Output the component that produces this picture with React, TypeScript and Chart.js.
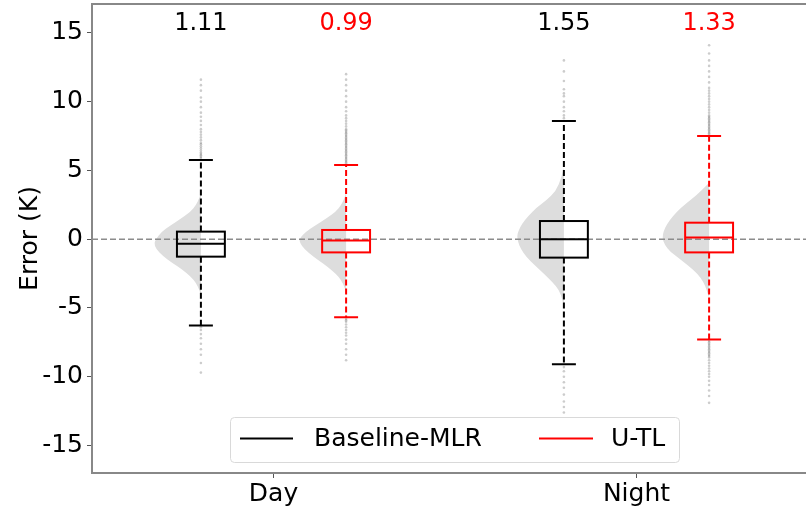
import React, { useEffect, useRef } from 'react';
import { Chart, registerables } from 'chart.js';
Chart.register(...registerables);

const FONT = '"DejaVu Sans", sans-serif';

const categories = ['Day', 'Night'];
const categoryPos = [1, 2];
const seriesNames = ['Baseline-MLR', 'U-TL'];
const seriesColors = ['#000000', '#ff0000'];
const seriesOffset = [-0.2, 0.2];
const yTicks = [-15, -10, -5, 0, 5, 10, 15];

// RMSE-like labels on top, per category
const baselineScore = ['1.11', '1.55'];
const utlScore = ['0.99', '1.33'];

// box statistics, per category
const baselineQ1 = [-1.27, -1.34];
const baselineMedian = [-0.33, 0.0];
const baselineQ3 = [0.55, 1.32];
const baselineWhiskerLow = [-6.28, -9.1];
const baselineWhiskerHigh = [5.75, 8.6];

const utlQ1 = [-0.96, -0.96];
const utlMedian = [-0.1, 0.13];
const utlQ3 = [0.67, 1.2];
const utlWhiskerLow = [-5.68, -7.3];
const utlWhiskerHigh = [5.4, 7.5];

// half-violin profiles (value levels and relative half widths)
const dayBaselineViolinY = [3.4, 3.0, 2.5, 2.0, 1.5, 1.0, 0.5, 0.0, -0.3, -0.7, -1.2, -1.7, -2.2, -2.7, -3.2, -3.7, -4.1];
const dayBaselineViolinW = [0, 0.03, 0.1, 0.22, 0.42, 0.65, 0.85, 0.96, 1.0, 0.96, 0.82, 0.62, 0.4, 0.22, 0.1, 0.03, 0];
const dayUtlViolinY = [3.4, 3.0, 2.5, 2.0, 1.5, 1.0, 0.5, 0.1, -0.1, -0.5, -1.0, -1.5, -2.0, -2.5, -3.0, -3.5, -3.9];
const dayUtlViolinW = [0, 0.03, 0.1, 0.22, 0.42, 0.66, 0.87, 0.98, 1.0, 0.95, 0.8, 0.6, 0.4, 0.22, 0.1, 0.03, 0];
const nightBaselineViolinY = [5.2, 4.5, 3.5, 2.8, 2.3, 1.7, 1.1, 0.6, 0.25, -0.2, -0.7, -1.3, -1.9, -2.5, -3.1, -3.7, -4.4, -5.0];
const nightBaselineViolinW = [0, 0.05, 0.17, 0.38, 0.58, 0.76, 0.9, 0.97, 1.0, 0.98, 0.92, 0.8, 0.62, 0.43, 0.25, 0.1, 0.03, 0];
const nightUtlViolinY = [4.1, 3.5, 2.9, 2.3, 1.7, 1.1, 0.6, 0.1, -0.4, -0.9, -1.3, -1.9, -2.5, -3.1, -3.7, -4.3];
const nightUtlViolinW = [0, 0.17, 0.38, 0.6, 0.77, 0.9, 0.97, 1.0, 0.95, 0.83, 0.68, 0.45, 0.25, 0.12, 0.05, 0];

// outliers
const dayBaselineOutliers = [5.9, 6.0, 6.1, 6.2, 6.3, 6.45, 6.6, 6.75, 6.9, 7.0, 7.2, 7.4, 7.6, 7.8, 8.0, 8.3, 8.6, 8.9, 9.2, 9.6, 10.0, 10.3, 10.8, 11.2, 11.6,
  -6.4, -6.6, -6.9, -7.2, -7.6, -8.0, -8.4, -9.0, -9.7];
const dayUtlOutliers = [5.5, 5.6, 5.7, 5.8, 5.9, 6.0, 6.1, 6.2, 6.3, 6.4, 6.5, 6.6, 6.7, 6.8, 6.9, 7.0, 7.1, 7.2, 7.3, 7.4, 7.5, 7.6, 7.7, 7.8, 7.9, 8.0, 8.2, 8.4, 8.6, 8.8, 9.0, 9.3, 9.6, 10.0, 10.4, 10.8, 11.2, 11.6, 12.0,
  -5.8, -5.9, -6.0, -6.2, -6.4, -6.6, -6.8, -7.0, -7.3, -7.6, -8.0, -8.4, -8.8];
const nightBaselineOutliers = [8.8, 9.0, 9.3, 9.6, 10.0, 10.4, 10.6, 10.9, 11.5, 12.2, 13.0,
  -9.3, -9.6, -10.0, -10.4, -10.8, -11.3, -11.8, -12.2, -12.6];
const nightUtlOutliers = [7.6, 7.7, 7.8, 7.9, 8.0, 8.1, 8.2, 8.3, 8.4, 8.5, 8.6, 8.7, 8.8, 8.9, 9.0, 9.2, 9.4, 9.6, 9.8, 10.0, 10.2, 10.4, 10.6, 10.8, 11.0, 11.4, 11.8, 12.2, 12.6, 13.0, 13.5, 14.1,
  -7.4, -7.5, -7.6, -7.7, -7.8, -7.9, -8.0, -8.1, -8.2, -8.3, -8.4, -8.5, -8.6, -8.8, -9.0, -9.2, -9.4, -9.6, -9.8, -10.0, -10.3, -10.6, -11.0, -11.4, -11.9];

const seriesQ1 = [baselineQ1, utlQ1];
const seriesMedian = [baselineMedian, utlMedian];
const seriesQ3 = [baselineQ3, utlQ3];
const seriesLow = [baselineWhiskerLow, utlWhiskerLow];
const seriesHigh = [baselineWhiskerHigh, utlWhiskerHigh];
const seriesScore = [baselineScore, utlScore];
const violinY = [[dayBaselineViolinY, nightBaselineViolinY], [dayUtlViolinY, nightUtlViolinY]];
const violinW = [[dayBaselineViolinW, nightBaselineViolinW], [dayUtlViolinW, nightUtlViolinW]];
const outliers = [[dayBaselineOutliers, nightBaselineOutliers], [dayUtlOutliers, nightUtlOutliers]];

const BOX_HALF = 0.066;
const CAP_HALF = 0.033;
const VIOLIN_MAX = 0.129;

const drawPlugin = {
  id: 'boxViolin',
  beforeDatasetsDraw(chart: any) {
    const { ctx, chartArea } = chart;
    const xs = chart.scales.x;
    const ys = chart.scales.y;
    ctx.save();
    ctx.beginPath();
    ctx.rect(chartArea.left, chartArea.top, chartArea.right - chartArea.left, chartArea.bottom - chartArea.top);
    ctx.clip();
    for (let s = 0; s < seriesNames.length; s++) {
      for (let c = 0; c < categories.length; c++) {
        const cx = categoryPos[c] + seriesOffset[s];
        const Y = violinY[s][c];
        const W = violinW[s][c];
        const pts = Y.map((y, i) => [xs.getPixelForValue(cx - W[i] * VIOLIN_MAX), ys.getPixelForValue(y)]);
        ctx.beginPath();
        const px = xs.getPixelForValue(cx);
        ctx.moveTo(px, pts[0][1]);
        ctx.lineTo(pts[0][0], pts[0][1]);
        for (let i = 1; i < pts.length - 1; i++) {
          const mx = (pts[i][0] + pts[i + 1][0]) / 2;
          const my = (pts[i][1] + pts[i + 1][1]) / 2;
          ctx.quadraticCurveTo(pts[i][0], pts[i][1], mx, my);
        }
        ctx.lineTo(pts[pts.length - 1][0], pts[pts.length - 1][1]);
        ctx.lineTo(px, pts[pts.length - 1][1]);
        ctx.closePath();
        ctx.fillStyle = '#dddddd';
        ctx.fill();
      }
    }
    ctx.restore();
  },
  afterDatasetsDraw(chart: any) {
    const { ctx, chartArea } = chart;
    const xs = chart.scales.x;
    const ys = chart.scales.y;
    ctx.save();
    ctx.strokeStyle = '#8c8c8c';
    ctx.lineWidth = 1.5;
    ctx.setLineDash([6, 3]);
    ctx.beginPath();
    const y0 = ys.getPixelForValue(0);
    ctx.moveTo(chartArea.left, y0);
    ctx.lineTo(chartArea.right, y0);
    ctx.stroke();

    for (let s = 0; s < seriesNames.length; s++) {
      ctx.strokeStyle = seriesColors[s];
      ctx.lineWidth = 2;
      for (let c = 0; c < categories.length; c++) {
        const cx = categoryPos[c] + seriesOffset[s];
        const px = xs.getPixelForValue(cx);
        const bl = xs.getPixelForValue(cx - BOX_HALF);
        const br = xs.getPixelForValue(cx + BOX_HALF);
        const cl = xs.getPixelForValue(cx - CAP_HALF);
        const cr = xs.getPixelForValue(cx + CAP_HALF);
        const q1 = ys.getPixelForValue(seriesQ1[s][c]);
        const q3 = ys.getPixelForValue(seriesQ3[s][c]);
        const md = ys.getPixelForValue(seriesMedian[s][c]);
        const lo = ys.getPixelForValue(seriesLow[s][c]);
        const hi = ys.getPixelForValue(seriesHigh[s][c]);
        ctx.setLineDash([6, 3]);
        ctx.beginPath();
        ctx.moveTo(px, q3);
        ctx.lineTo(px, hi);
        ctx.moveTo(px, q1);
        ctx.lineTo(px, lo);
        ctx.stroke();
        ctx.setLineDash([]);
        ctx.beginPath();
        ctx.moveTo(cl, hi);
        ctx.lineTo(cr, hi);
        ctx.moveTo(cl, lo);
        ctx.lineTo(cr, lo);
        ctx.stroke();
        ctx.strokeRect(bl, q3, br - bl, q1 - q3);
        ctx.beginPath();
        ctx.moveTo(bl, md);
        ctx.lineTo(br, md);
        ctx.stroke();
        ctx.fillStyle = seriesColors[s];
        ctx.font = `24px ${FONT}`;
        ctx.textAlign = 'center';
        ctx.textBaseline = 'middle';
        ctx.fillText(seriesScore[s][c], px, chartArea.top + 20);
      }
    }
    ctx.restore();
  },
  afterDraw(chart: any) {
    const { ctx, chartArea } = chart;
    ctx.save();
    ctx.strokeStyle = '#888888';
    ctx.lineWidth = 2;
    ctx.beginPath();
    ctx.moveTo(chartArea.left - 1, chartArea.top);
    ctx.lineTo(chartArea.right + 1, chartArea.top);
    ctx.stroke();

    ctx.fillStyle = '#000';
    ctx.font = `25px ${FONT}`;
    ctx.textAlign = 'center';
    ctx.textBaseline = 'middle';
    ctx.translate(30, (chartArea.top + chartArea.bottom) / 2);
    ctx.rotate(-Math.PI / 2);
    ctx.fillText('Error (K)', 0, 0);
    ctx.setTransform(1, 0, 0, 1, 0, 0);

    const lx = chartArea.left + 138;
    const ly = chartArea.top + 413;
    const lw = 449;
    const lh = 45;
    ctx.fillStyle = 'rgba(255,255,255,0.85)';
    ctx.strokeStyle = '#d9d9d9';
    ctx.lineWidth = 1;
    ctx.beginPath();
    (ctx as any).roundRect(lx + 0.5, ly + 0.5, lw, lh, 4);
    ctx.fill();
    ctx.stroke();
    const items = [
      { x0: lx + 10, x1: lx + 63, tx: lx + 84 },
      { x0: lx + 309, x1: lx + 363, tx: lx + 381 },
    ];
    const cy = ly + lh / 2 - 1;
    items.forEach((it, i) => {
      ctx.strokeStyle = seriesColors[i];
      ctx.lineWidth = 2;
      ctx.beginPath();
      ctx.moveTo(it.x0, cy);
      ctx.lineTo(it.x1, cy);
      ctx.stroke();
      ctx.fillStyle = '#000';
      ctx.font = `25px ${FONT}`;
      ctx.textAlign = 'left';
      ctx.textBaseline = 'middle';
      ctx.fillText(seriesNames[i], it.tx, cy + 1);
    });
    ctx.restore();
  },
};

export default function App() {
  const ref = useRef<HTMLCanvasElement | null>(null);
  useEffect(() => {
    document.body.style.margin = '0';
    if (!ref.current) return;
    const points: { x: number; y: number }[] = [];
    for (let s = 0; s < seriesNames.length; s++) {
      for (let c = 0; c < categories.length; c++) {
        outliers[s][c].forEach((v) => points.push({ x: categoryPos[c] + seriesOffset[s], y: v }));
      }
    }
    const chart = new Chart(ref.current, {
      type: 'scatter',
      data: {
        datasets: [
          {
            label: 'outliers',
            data: points,
            pointRadius: 1.3,
            pointBorderWidth: 0,
            pointBackgroundColor: 'rgba(110,110,110,0.35)',
            pointBorderColor: 'rgba(0,0,0,0)',
          },
        ],
      },
      options: {
        responsive: false,
        animation: false,
        events: [],
        layout: { padding: { top: 3, right: 2, left: 0, bottom: 0 } },
        plugins: { legend: { display: false }, tooltip: { enabled: false } },
        scales: {
          x: {
            type: 'linear',
            min: 0.5,
            max: 2.5,
            afterBuildTicks: (s: any) => {
              s.ticks = categoryPos.map((v) => ({ value: v }));
            },
            afterFit: (s: any) => {
              s.height = 37;
              s.paddingLeft = 0;
              s.paddingRight = 0;
            },
            ticks: {
              callback: (v: any) => categories[categoryPos.indexOf(Number(v))],
              font: { family: FONT, size: 25 },
              color: '#000',
              padding: 1,
              maxRotation: 0,
              autoSkip: false,
            },
            grid: { drawOnChartArea: false, drawTicks: true, tickLength: 5, color: '#555' },
            border: { display: true, color: '#888', width: 2 },
          },
          y: {
            type: 'linear',
            min: -17,
            max: 17.1,
            afterBuildTicks: (s: any) => {
              s.ticks = yTicks.map((v) => ({ value: v }));
            },
            afterFit: (s: any) => {
              s.width = 92;
              s.paddingTop = 0;
              s.paddingBottom = 0;
            },
            ticks: {
              callback: (v: any) => String(v),
              font: { family: FONT, size: 25 },
              color: '#000',
              padding: 4,
              autoSkip: false,
            },
            grid: { drawOnChartArea: false, drawTicks: true, tickLength: 5, color: '#555' },
            border: { display: true, color: '#888', width: 2 },
          },
        },
      },
      plugins: [drawPlugin],
    });
    return () => chart.destroy();
  }, []);
  return (
    <div style={{ width: 806, height: 510, overflow: 'hidden', position: 'relative' }}>
      <canvas ref={ref} width={822} height={510} style={{ display: 'block' }} />
    </div>
  );
}
